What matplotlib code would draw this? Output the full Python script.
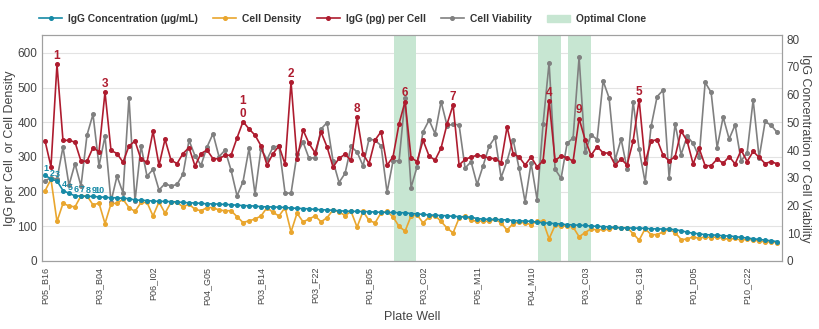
import numpy as np
import matplotlib.pyplot as plt
from matplotlib.patches import Patch

plt.rcParams["font.family"] = ["Liberation Sans", "DejaVu Sans"]

# %% data (one point per plate well, sorted by IgG concentration)
wells = ["P05_B16", "P03_B04", "P06_I02", "P04_G05", "P03_B14", "P03_F22", "P01_B05",
         "P03_C02", "P05_M11", "P04_M10", "P03_C03", "P06_C18", "P01_D05", "P10_C22"]
label_step = 9

# right axis: IgG concentration (ug/mL)
igg_conc = [31.0, 29.5, 28.9, 25.4, 24.4, 23.5, 23.4, 23.3, 23.3, 23.1,
            23.0, 22.8, 22.8, 22.6, 22.5, 22.0, 21.9, 21.8, 21.6, 21.5,
            21.5, 21.4, 21.3, 21.1, 21.0, 20.9, 20.8, 20.6, 20.6, 20.5,
            20.4, 20.3, 20.1, 20.0, 19.9, 19.8, 19.6, 19.5, 19.5, 19.4,
            19.3, 19.1, 19.0, 18.9, 18.8, 18.6, 18.5, 18.4, 18.3, 18.1,
            18.0, 17.9, 17.9, 17.8, 17.8, 17.6, 17.6, 17.5, 17.5, 17.4,
            17.4, 17.1, 17.0, 16.8, 16.6, 16.5, 16.4, 16.3, 16.1, 16.0,
            15.9, 15.8, 15.3, 15.1, 15.0, 15.0, 14.9, 14.8, 14.6, 14.5,
            14.4, 14.3, 14.0, 13.8, 13.6, 13.5, 13.3, 13.1, 13.0, 12.9,
            12.8, 12.6, 12.5, 12.4, 12.3, 12.1, 12.0, 11.9, 11.9, 11.8,
            11.8, 11.6, 11.6, 11.5, 11.5, 11.3, 10.9, 10.4, 10.0, 9.8,
            9.5, 9.4, 9.3, 9.1, 9.0, 8.8, 8.5, 8.3, 8.0, 7.8,
            7.5, 7.3, 7.0]

# right axis: cell viability
viability = [28.9, 30.0, 29.5, 41.1, 27.3, 35.1, 27.0, 45.4, 52.9, 34.3,
             45.0, 21.4, 30.6, 24.6, 58.9, 21.6, 41.5, 30.6, 33.0, 25.6,
             27.9, 27.0, 27.6, 31.3, 43.5, 37.9, 34.5, 41.1, 45.9, 37.6,
             40.0, 32.8, 23.5, 28.6, 40.6, 24.1, 40.5, 36.6, 41.1, 41.4,
             24.6, 24.4, 38.6, 42.9, 37.0, 37.3, 47.6, 49.9, 36.0, 28.3,
             31.6, 41.3, 39.3, 34.3, 44.0, 43.5, 41.6, 24.8, 36.1, 36.1,
             58.8, 26.5, 34.0, 46.6, 50.8, 45.9, 57.5, 48.8, 49.3, 49.1,
             33.5, 35.8, 27.6, 34.3, 41.4, 44.6, 30.1, 36.1, 43.8, 33.4,
             21.3, 35.3, 22.1, 49.5, 71.5, 33.1, 29.8, 42.4, 44.4, 73.5,
             39.3, 45.5, 43.8, 64.9, 58.8, 36.4, 44.0, 33.1, 57.5, 40.3,
             28.4, 48.6, 59.3, 61.6, 30.1, 49.4, 38.4, 45.0, 42.4, 37.5,
             64.4, 60.8, 40.9, 51.9, 44.0, 49.1, 36.1, 39.0, 58.1, 37.3,
             50.3, 48.9, 46.4]

# left axis: IgG (pg) per cell
igg_per_cell = [347, 272, 567, 348, 348, 343, 288, 288, 327, 315,
                487, 319, 310, 285, 332, 346, 293, 285, 374, 276,
                351, 291, 281, 310, 327, 274, 310, 320, 295, 295,
                305, 305, 355, 402, 381, 363, 332, 277, 310, 332,
                279, 516, 293, 378, 339, 312, 372, 329, 271, 296,
                308, 290, 414, 308, 281, 349, 373, 276, 301, 396,
                460, 298, 287, 348, 303, 291, 326, 395, 450, 277,
                293, 300, 305, 302, 297, 295, 284, 387, 310, 300,
                277, 300, 272, 289, 462, 290, 303, 298, 288, 411,
                350, 305, 330, 312, 311, 277, 294, 277, 346, 465,
                284, 346, 350, 305, 289, 301, 375, 346, 280, 325,
                275, 275, 294, 282, 301, 280, 320, 287, 316, 299,
                281, 287, 280]

# left axis: cell density
cell_density = [202, 236, 114, 166, 159, 156, 188, 188, 162, 167,
                108, 165, 167, 178, 154, 143, 169, 169, 130, 170,
                138, 169, 169, 156, 164, 149, 145, 154, 154, 147,
                145, 145, 128, 111, 116, 121, 130, 154, 140, 130,
                154, 84, 138, 113, 121, 130, 113, 125, 147, 142,
                131, 143, 98, 143, 117, 110, 139, 143, 127, 100,
                86, 130, 133, 110, 127, 131, 114, 95, 81, 124,
                130, 118, 114, 116, 114, 120, 110, 89, 108, 112,
                110, 105, 115, 114, 64, 103, 101, 101, 98, 70,
                82, 93, 89, 91, 91, 97, 95, 96, 79, 60,
                93, 76, 76, 84, 91, 82, 62, 63, 70, 65,
                70, 67, 70, 65, 63, 65, 60, 63, 60, 58,
                55, 55, 53]

# rank labels on the IgG per cell peaks (well index -> rank)
rank_wells = [2, 41, 10, 84, 99, 60, 68, 52, 89, 33]
rank_text = ["1", "2", "3", "4", "5", "6", "7", "8", "9", "1\n0"]
# top 10 by concentration
conc_rank_text = ["1", "2", "3", "4", "5", "6", "7", "8", "9", "10"]
optimal_wells = [60, 84, 89]

teal = "#178aa6"
orange = "#e9a62e"
red = "#ae1c2f"
grey = "#808080"
green = "#c7e6d2"
txt = "#444444"

x = np.arange(len(igg_conc))

fig = plt.figure(figsize=(8.2, 3.29), dpi=100)
ax = fig.add_axes([0.0512, 0.2067, 0.9024, 0.687])
ax2 = ax.twinx()
ax.set_xlim(-0.5, 122.8)
ax.set_ylim(0, 652)
ax2.set_ylim(0, 81.5)

for w in optimal_wells:
    ax.axvspan(w - 1.9, w + 1.9, color=green, lw=0, zorder=1)

mk = dict(marker="o", markersize=2.6, lw=1.2)
# right-axis series drawn in the left axes via the right axis' data transform
ax.plot(x, viability, color=grey, transform=ax2.transData, zorder=3, **mk)
ax.plot(x, igg_per_cell, color=red, zorder=4, **mk)
ax.plot(x, cell_density, color=orange, zorder=5, **mk)
ax.plot(x, igg_conc, color=teal, transform=ax2.transData, zorder=6, **mk)

for w, t in zip(rank_wells, rank_text):
    ax.annotate(t, (w, igg_per_cell[w]), xytext=(0, 1.5), textcoords="offset points",
                ha="center", va="bottom", color=red, fontsize=8.5, fontweight="bold",
                linespacing=1.1, zorder=7)
for i, t in enumerate(conc_rank_text):
    ax.annotate(t, (i, igg_conc[i]), xycoords=ax2.transData, xytext=(0.6, 1.2),
                textcoords="offset points", ha="center", va="bottom", color=teal,
                fontsize=6.5, fontweight="bold", zorder=7,
                family=["Liberation Sans Narrow", "Liberation Sans", "DejaVu Sans"])

ax.set_yticks(range(0, 700, 100))
ax2.set_yticks(range(0, 90, 10))
ax.grid(axis="y", color="#e3e3e3", lw=0.8)
ax.set_axisbelow(True)
ax.set_xticks(x[::label_step])
ax.set_xticklabels(wells, rotation=90, fontsize=6.5, color=txt)
ax.tick_params(axis="x", length=0, pad=4)
ax.tick_params(axis="y", length=0, labelsize=8.5, labelcolor=txt)
ax2.tick_params(axis="y", length=0, labelsize=8.5, labelcolor=txt)
for a in (ax, ax2):
    for s in a.spines.values():
        s.set_color("#a0a0a0")

ax.set_ylabel("IgG per Cell  or Cell Density", fontsize=9, color=txt, labelpad=1)
ax2.set_ylabel("IgG Concentration or Cell Viability", fontsize=9, color=txt,
               rotation=270, labelpad=8)
ax.set_xlabel("Plate Well", fontsize=9, color=txt, labelpad=4)

handles = [
    plt.Line2D([], [], color=teal, **mk),
    plt.Line2D([], [], color=orange, **mk),
    plt.Line2D([], [], color=red, **mk),
    plt.Line2D([], [], color=grey, **mk),
    Patch(color=green),
]
names = ["IgG Concentration (\u00b5g/mL)", "Cell Density", "IgG (pg) per Cell",
         "Cell Viability", "Optimal Clone"]
leg = fig.legend(handles, names, loc="center", bbox_to_anchor=(0.418, 0.943), ncol=5,
                 frameon=False, handlelength=2.2, columnspacing=1.5,
                 handletextpad=0.6, prop={"weight": "bold", "size": 7.4})
for t in leg.get_texts():
    t.set_color("#333333")

fig.savefig("out.png", dpi=100)
